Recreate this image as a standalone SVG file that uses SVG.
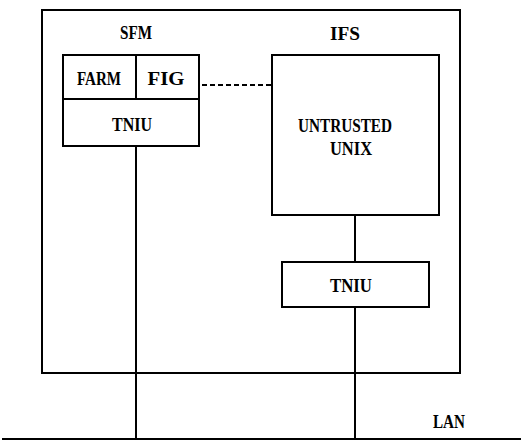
<svg xmlns="http://www.w3.org/2000/svg" width="523" height="443" viewBox="0 0 523 443">
<style>
.b{fill:none;stroke:#000;stroke-width:2}
.l{stroke:#000;stroke-width:2;fill:none}
text{font-family:"Liberation Serif","DejaVu Serif",serif;font-weight:bold;font-size:19px;fill:#000;text-anchor:middle}
</style>
<rect width="523" height="443" fill="#fff"/>
<g id="outer">
<rect class="b" x="42" y="10" width="418" height="363"/>
<text x="136" y="39" textLength="32" lengthAdjust="spacingAndGlyphs">SFM</text>
<text x="345" y="40" textLength="30" lengthAdjust="spacingAndGlyphs">IFS</text>
</g>
<g id="farm">
<rect class="b" x="63" y="55" width="73" height="44"/>
<text x="99" y="85" textLength="44" lengthAdjust="spacingAndGlyphs">FARM</text>
</g>
<g id="fig">
<rect class="b" x="136" y="55" width="63" height="44"/>
<text x="166" y="85" textLength="37" lengthAdjust="spacingAndGlyphs">FIG</text>
</g>
<g id="tniu1">
<rect class="b" x="63" y="99" width="136" height="47"/>
<text x="132" y="131" textLength="40" lengthAdjust="spacingAndGlyphs">TNIU</text>
</g>
<g id="unix">
<rect class="b" x="272" y="55" width="167" height="160"/>
<text x="345" y="132" textLength="94" lengthAdjust="spacingAndGlyphs">UNTRUSTED</text>
<text x="351" y="155" textLength="42" lengthAdjust="spacingAndGlyphs">UNIX</text>
</g>
<g id="tniu2">
<rect class="b" x="282" y="262" width="147" height="45"/>
<text x="351" y="292" textLength="42" lengthAdjust="spacingAndGlyphs">TNIU</text>
</g>
<g id="lan">
<text x="449" y="428" textLength="32" lengthAdjust="spacingAndGlyphs">LAN</text>
</g>
<g id="connectors">
<line class="l" x1="2" y1="439" x2="521" y2="439"/>
<line class="l" x1="136" y1="146" x2="136" y2="439"/>
<line class="l" x1="355" y1="215" x2="355" y2="262"/>
<line class="l" x1="355" y1="307" x2="355" y2="439"/>
<line class="l" x1="202" y1="85" x2="271" y2="85" stroke-dasharray="5,3"/>
</g>
</svg>
